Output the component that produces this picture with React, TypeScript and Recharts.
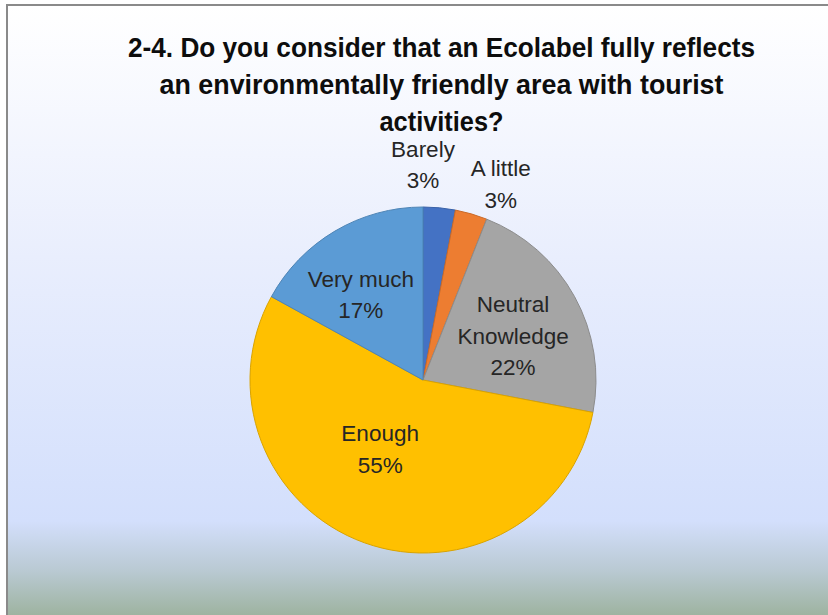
import React from "react";
import { PieChart, Pie, Cell } from "recharts";

const categories = ["Barely", "A little", "Neutral Knowledge", "Enough", "Very much"];
const values = [3, 3, 22, 55, 17];
const labelLines = [["Barely", "3%"], ["A little", "3%"], ["Neutral", "Knowledge", "22%"], ["Enough", "55%"], ["Very much", "17%"]];
const titleLines = [
  "2-4. Do you consider that an Ecolabel fully reflects",
  "an environmentally friendly area with tourist",
  "activities?",
];

const fills = ["#4472C4", "#ED7D31", "#A5A5A5", "#FFC000", "#5B9BD5"];
const strokes = ["#3a62a8", "#c96a29", "#8c8c8c", "#d9a300", "#4d84b5"];
// label placement: radius factor and angle tweak (deg)
const labelRadius = [1.247, 1.22, 0.58, 0.47, 0.61];
const labelAngleTweak = [5.4, -5.4, -2.7, -12, 5.5];

const data = categories.map((c, i) => ({ name: c, value: values[i] }));

const RAD = Math.PI / 180;

const renderLabel = (props: any) => {
  const { cx, cy, midAngle, outerRadius, index } = props;
  const a = (midAngle + labelAngleTweak[index]) * RAD;
  const r = outerRadius * labelRadius[index];
  const x = cx + r * Math.cos(a);
  const y = cy - r * Math.sin(a);
  const lines = labelLines[index];
  const lh = 31.5;
  const y0 = y - ((lines.length - 1) * lh) / 2 + 8;
  return (
    <text
      key={"lbl" + index}
      x={x}
      y={y0}
      textAnchor="middle"
      fill="#262626"
      style={{ fontFamily: "'Liberation Sans', Arial, sans-serif", fontSize: 22.5 }}
    >
      {lines.map((l, i) => (
        <tspan key={i} x={x} y={y0 + i * lh}>
          {l}
        </tspan>
      ))}
    </text>
  );
};

const titleBaselines = [56.7, 94, 131.3];
const titleWidths = [627, 564, 124];

export default function App() {
  return (
    <div style={{ position: "absolute", left: 0, top: 0, width: 828, height: 615, background: "#ffffff", overflow: "hidden" }}>
      <div
        style={{
          position: "absolute",
          left: 6,
          top: 4,
          width: 840,
          height: 630,
          boxSizing: "border-box",
          borderLeft: "2px solid #8a8a8a",
          borderTop: "2px solid #8a8a8a",
          background: "linear-gradient(to bottom, #ffffff 0%, #e9eefd 40%, #d3dffc 82%, #b9c9d2 90%, #96ad92 99%, #96ad92 100%)",
        }}
      />
      <div style={{ position: "absolute", left: 0, top: 0 }}>
        <PieChart width={828} height={615} margin={{ top: 0, right: 0, bottom: 0, left: 0 }}>
          <Pie
            data={data}
            dataKey="value"
            nameKey="name"
            cx={423}
            cy={380}
            outerRadius={173}
            startAngle={90}
            endAngle={-270}
            isAnimationActive={false}
            label={renderLabel}
            labelLine={false}
          >
            {data.map((d, i) => (
              <Cell key={d.name} fill={fills[i]} stroke={strokes[i]} strokeWidth={1} />
            ))}
          </Pie>
        </PieChart>
      </div>
      <svg width={828} height={615} style={{ position: "absolute", left: 0, top: 0, pointerEvents: "none" }}>
        {titleLines.map((t, i) => (
          <text
            key={i}
            x={441.5}
            y={titleBaselines[i]}
            textAnchor="middle"
            textLength={titleWidths[i]}
            lengthAdjust="spacingAndGlyphs"
            fill="#0d0d0d"
            style={{ fontFamily: "'Liberation Sans', Arial, sans-serif", fontWeight: 700, fontSize: 27 }}
          >
            {t}
          </text>
        ))}
      </svg>
    </div>
  );
}
